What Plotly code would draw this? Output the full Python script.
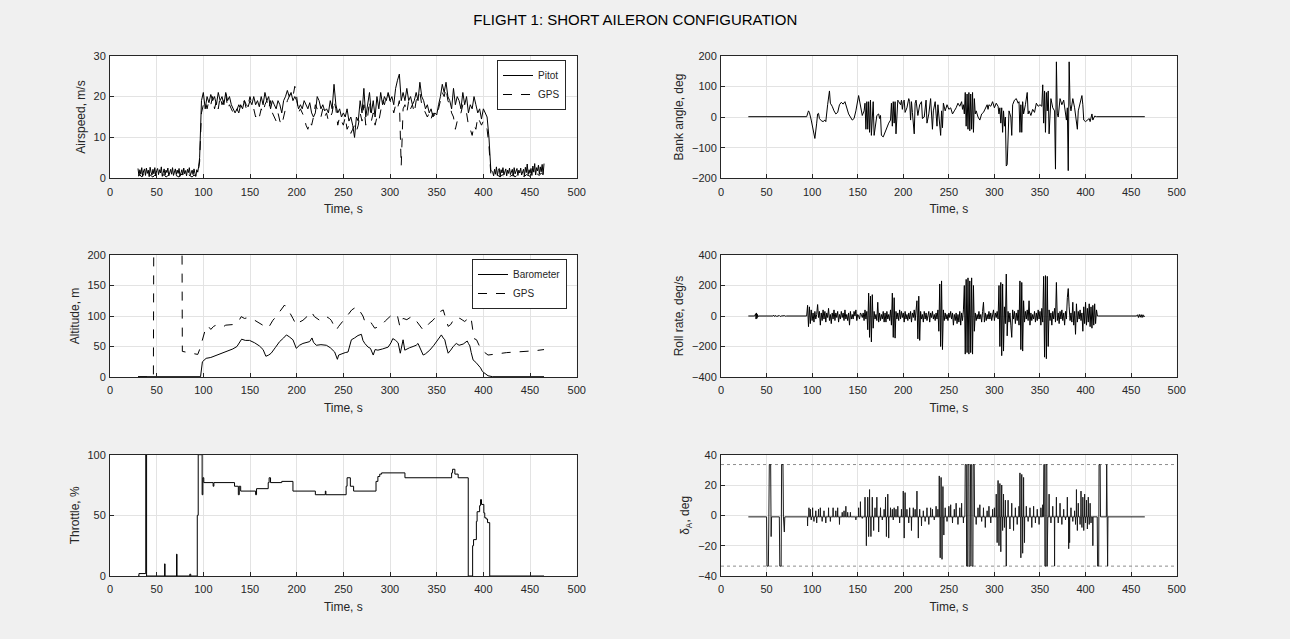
import numpy as np
import plotly.graph_objects as go

# ---------------- DATA ----------------
# Airspeed (m/s)
pitot_ground1 = [2.4,0.6,2.1,1.0,2.6,0.5,1.8,2.3,0.7,2.5,
                 1.2,2.0,0.4,2.7,1.5,0.8,2.2,1.1,2.6,0.6,
                 1.9,2.4,0.9,2.1,1.3,2.8,0.5,1.7,2.3,0.8,
                 2.0,1.4,2.5,0.6,1.8,2.2,1.0,2.6,0.7,1.5,
                 2.3,0.9,2.0,1.2,2.4,0.5,1.8,2.1,0.8,2.5,
                 1.1,1.9,0.6,2.2,1.4,2.6,0.7,1.6,2.0,0.9,
                 2.3,1.2,0.5,2.1,1.5,2.9]            # t = 30..95, 1 s
pitot_flight = [5,19,21,17,20,18.5,20.5,19,20,18,
                21,19,20,18,21,19,20,18,17,16,
                17,16,18,17,19,18,17.5,19,18,20,
                18,19,17.5,20,18,21,19,20,17,19,
                18,17,19,18,16,19,20,21.5,20,21,
                19,20,19,17,18,17,19,18,17,18.5,
                16,15,16,20,19,17,18,16.5,17,16,
                19,17,23,18,16,17,15,16,15,17,
                14,15,13,10,15,14,19,16,22,15,
                18,21,16,19,15,20,17,21,18,20,
                19,21,19,20,18,22,24,25.5,19,21,
                19,22,19,20,18,19,21,19,23.5,20,
                19,17,18,16,17,15,16,15.5,18,20,
                23,21,23.5,20,19,17,22,18,20,19,
                17,21,18,20,16,18,17,20,18,16,
                17,14.5,17,16,15,10,2]              # t = 96..408, 2 s
pitot_ground2 = [1.5,0.6,2.2,1.0,2.8,0.7,1.9,2.4,0.5,2.1,
                 1.3,2.6,0.8,1.7,2.3,0.6,2.0,1.2,2.5,0.9,
                 1.8,2.2,0.5,2.6,1.1,1.6,2.4,0.7,2.0,1.3,
                 2.5,0.8,1.9,2.2,0.6,2.7,1.4,3.5,0.9,2.1,
                 1.2,2.4,0.7,3.0,1.5,3.6,0.8,2.6,1.8,3.2,
                 1.0,2.8,1.6,3.4,0.9,3.6]            # t = 410..465, 1 s
gps_ground1 = [0.5,0.9,0.3,1.1,0.6,0.4,1.0,0.7,0.3,0.8,
               0.5,1.2,0.4,0.6,0.9,0.3,0.7,1.0,0.5,0.4,
               0.8,0.6,0.3,1.1,0.5,0.7,0.4,0.9,0.6,0.3,
               0.8,0.5,1.0]                          # t = 30..94, 2 s
gps_flight = [4,16,18,19,17,19,18,20,17,19,
              17,20,18,19,21,17,18,17,16,15.5,
              17,18,17,18,19,17,18,20,18,17,
              15,16,15,17,16,18,19,17,19,16,
              15,14,16,14,13,15,17,19,20,21,
              20,22.5,20,16,17,16,15,13,12,14,
              13,15,18,17,16,15,17,15,16,14,
              15,16,19,17,13,15,14,13,15,12,
              13,11,12,13,11.5,13,16,14,18,13,
              15,19,14,16,13,15,14,17,19,18,
              20,21,19,18,16,18,17,19,3,17,
              18,16,19,17,18,16,19,20,21,18,
              17,16,15,16,14.5,16,15,16,17,19,
              21,20,22,19,18,16,15,12,14,15,
              16,18,17,16,13,12,10.5,13,12,15,
              14,13,14,13,12,8,1]                    # t = 96..408, 2 s
gps_ground2 = [0.8,0.4,1.0,0.6,0.3,0.9,0.5,0.7,1.1,0.4,
               0.6,0.9,0.3,0.8,0.5,1.0,0.6,0.4,0.9,0.7,
               0.5,1.2,0.8,0.6,1.0,0.7,1.3,0.9]      # t = 410..464, 2 s

# Altitude (m)
baro_t = [30,97,99,103,108,113,117,121,126,131.6,136,141,145,149.5,155,160,164,167,170,172.7,
          177,181.7,186,189,192,196,199.6,203,206.7,210,213.9,216.4,218,221,226,231.8,236,240.7,243.6,245,
          247.9,252,255,258.6,262,265.7,269.3,271,273,275,276.5,279,281,282,284,287,292,298,301,303,
          306,308.7,311,313,314,315.8,318,321,324.7,328,330,333,335.5,338,342.6,347,351.6,355,357,358.7,
          360,362.3,365,367.7,371,374,378.4,380,382.7,384,385.5,387,389,392,394.5,397,399,402,405,410,465]
baro_v = [0.5,0.5,25,30.6,32,35,37,40,43,46,50,62,60,60,56,51,45,34,36,39,
          48,58,64,69,66,61,47,52,55,56,58,64,57,52,53,52,48,41,29,36,
          38,40,41,61,64,68,70,60,55,52,49,47,39,36,45,44,46,49,56,63,
          60,56,39,52,61,44,46,48,50,52,55,45,36,38,44,52,61,69,64,61,
          52,39,44,50,55,52,54,56,59,55,51,40,28,24,20,15,9,5,2,0.5,0.5]
gpsalt_t = [30,46.5,47,77,77.5,85,90,94,96,99.4,102,104.8,108,111,113.7,117,121,124,128,132,
            135,138,140.6,144,147,151,155,160,164,169,171,174.5,178,181.7,184,187,189,192,196,199.6,
            203,206.7,211,215.7,219,222,224.6,228,231.8,235,237,240,242.5,245,247.9,251,255,259,264,266,
            269.3,271,273,276,278,281,283.6,287,290.8,295,299.7,302,305,308,310.5,312,314,318,322,324.7,
            327,330,333,335.5,339,342,346,350,353.4,357,359,362.3,365,367.7,371,375,378,380,383,385,
            387,388.6,390,392.7,396,399.9,405,410,417.7,425,435,446,455,465]
gpsalt_v = [0,0,300,300,42,40,38,37,45,63,77,84,78,83,85,84,82,85,85,86,
            88,92,99,96,97,96,93,88,85,80,84,93,99,107,110,118,113,107,96,85,
            90,93,99,107,99,95,93,96,99,96,93,84,77,83,88,95,102,110,115,112,
            104,100,91,92,93,86,80,82,85,92,99,102,104,100,83,90,96,94,98,99,
            94,88,82,77,82,88,93,100,107,110,100,83,86,93,98,96,93,91,95,99,
            95,72,63,61,50,42,36,37,39,40,41,42,43,45]

# Throttle (%), step changes
thr_t = [30,31,38.3,39.2,58.5,59,71.3,71.8,85.5,86.5,93.5,94.5,98.7,99.5,100.5,110.5,111.3,133.4,137.5,138.5,
         140,156,157,169.5,170.5,172,184,196,220,230.7,231.3,253,254,257.5,261,285,287,289,291,316,
         366,367,369.5,373,383.8,388.5,389.5,392.5,393.3,396,397,398,400.5,401.5,403,404.5,406.8,465]
thr_v = [0,2,100,0,10,0,18,0,1.5,0,50,100,67,81,77,74,77,74,67,74,
         70,67,72,77,81,77,78,70,67,70,67,74,81,74,70,78,82,84,85,81,
         85,88,84,81,0,25,30,45,53,58,63,59,52,48,47,44,0,0]

# Bank angle (deg)
bank_t = [30,60,94,96,97,99,101,103,105,106,107,108,110,112,114,115,117,119,120,122,
          124,126,128,130,132,134,136,138,140,142,144,146,148,151,153,155,157,158,159,160,
          161,162,163,164,165,166,167,168,170,171,173,174,175,176,178,180,182,184,186,187,
          188,189,190,191,192,193,194,195,197,198,199,200,201,202,204,206,207,208,209,210,
          212,213,214,216,218,220,221,223,225,226,228,230,232,233,235,236,237,238,240,241,
          242,243,244,246,248,250,252,254,256,258,260,262,264,265,266,267,268,269,270,271,
          272,273,274,275,276,277,278,279,280,282,284,286,288,290,292,293,294,296,298,300,
          302,304,305,306,307,308,309,310,311,312,313,314,315,316,318,319,320,322,324,326,
          327,328,329,330,331,332,334,336,337,338,340,342,344,346,348,350,352,353,354,355,
          356,357,358,359,360,362,364,366,367,368,369,370,372,374,376,378,379,380,381,382,
          383,384,386,388,390,391,392,394,396,397,398,400,402,404,405,406,407,408,410,412,465]
bank_v = [1,1,1,20,15,-10,-40,-70,-20,10,12,-5,-12,-15,-10,-15,40,85,45,35,
          20,10,15,40,48,42,50,30,10,0,-10,-5,20,70,40,5,20,45,-40,50,
          -40,50,-50,55,-60,-10,50,-60,-20,5,10,-5,5,-60,-65,-50,-30,-20,-10,45,
          -30,50,-20,50,-55,10,55,50,40,55,25,50,55,15,30,60,50,-10,50,15,
          -55,45,55,5,40,50,-5,0,55,-20,10,60,-40,20,50,10,-30,40,-50,-60,
          20,-35,45,20,40,25,30,10,20,30,45,35,50,25,40,10,80,-30,75,-40,
          80,-45,75,-40,80,-50,60,10,20,0,-10,10,15,30,40,25,40,35,50,30,
          45,35,10,30,-20,30,-50,20,-30,0,-160,-155,-20,20,0,-60,40,55,60,45,
          50,-50,40,-50,50,10,40,80,10,20,5,25,15,45,35,40,35,105,-20,85,
          -50,80,20,85,-55,60,30,20,-170,180,10,0,60,40,55,0,-10,30,-175,180,
          40,20,60,30,-20,-40,20,50,70,40,-10,-15,-10,-5,-15,5,10,-10,3,1,1]

# Roll rate (deg/s)
roll_pre_t = [30,37,38,38.5,39,39.5,40,40.5,41,57,58,59,60,61,62,64,65,66,70,71,72,93]
roll_pre_v = [0,0,15,-20,20,-15,10,-5,0,0,5,-4,4,-3,0,3,-3,0,2,-2,0,0]
roll_flight = [0,70,-70,60,-50,40,-30,20,-40,30,            # t = 94..413, 1 s
               -20,10,75,-10,30,-60,20,-30,40,-20,
               30,-40,20,-10,50,-30,10,-50,20,-20,
               40,-30,20,-10,30,-40,10,-20,30,-10,
               20,-30,40,-20,10,-30,20,-60,30,-20,
               10,-20,30,0,40,-30,10,0,-20,20,
               10,-10,20,-30,40,-20,30,-90,150,-140,
               130,-170,140,-80,30,-20,10,-30,90,-40,
               20,-30,10,-20,30,-40,20,-40,30,-20,
               10,-30,40,-60,150,-140,120,-145,30,-20,
               20,-30,40,-20,30,-10,20,-40,30,-20,
               10,-30,20,-20,30,-40,20,-10,40,-30,
               20,100,-150,130,-160,30,-20,10,-40,30,
               -20,20,-30,10,30,-40,20,-10,30,-20,
               10,-30,20,-20,40,-100,210,-200,230,-220,
               40,-30,20,-20,10,-30,20,-10,30,-20,
               20,-60,10,-30,20,-50,10,-40,30,-60,
               20,-30,40,200,-250,240,-240,250,-250,230,
               -240,250,-250,200,-100,20,-30,10,-20,30,
               -20,10,-40,30,90,-40,20,-30,10,-20,
               30,-20,20,-30,10,40,-30,20,-10,30,
               -20,200,-200,220,-260,210,-230,60,-50,275,
               -130,30,-40,20,-60,-140,40,-20,30,-50,
               20,-30,40,-60,230,-220,220,-230,100,-40,
               30,-20,40,-30,100,-60,20,-30,10,-20,
               30,-40,20,-30,40,-20,30,-60,50,-40,
               260,-270,265,-280,260,-200,40,-30,20,-60,
               30,-20,50,-40,220,-30,20,-50,30,-20,
               40,-30,20,-60,30,-20,120,180,60,-30,
               20,-40,90,-60,30,-120,80,-40,30,-20,
               40,-30,20,-100,60,-50,90,-60,50,-40,
               80,-70,60,-80,70,-60,80,-50,40,0]
roll_post_t = [414,456,457,458,459,460,461,462,463,464,465]
roll_post_v = [0,0,8,-10,10,-8,9,-10,8,-6,0]

# Aileron deflection (deg)
ail_rest = -1
ail_limit = 33.5
# saturated / stepped stretches (explicit samples)
ail_block_t = [30,50,50.5,52,52.5,53,54.5,55,55.5,64,64.5,66,66.5,68,68.5,69.5,70,94,
               267.6,268,269.2,269.5,270.6,270.9,272.0,272.3,273.5,273.8,275.0,275.3,276.4,276.7,277.8,278.2,
               353.8,354.2,355.1,355.4,356.3,356.6,357.5,357.8,358.6,
               412.8,413.2,414.4,414.8,416,416.4,422.8,423.2,424.2,424.6,465]
ail_block_v = [-1,-1,-33.5,-33.5,-1,33.5,33.5,-14,-1,-1,-33.5,-33.5,33.5,33.5,-1,-11,-1,-1,
               -1,33.5,33.5,-33.5,-33.5,33.5,33.5,-33.5,-33.5,33.5,33.5,-33.5,-33.5,33.5,33.5,-1,
               -1,33.5,33.5,-33.5,-33.5,33.5,33.5,-33.5,-1,
               -1,-33.5,-33.5,33.5,33.5,-1,-1,33.5,-33.5,-1,-1]
# short spikes from the rest value
ail_spike_t = [95,96.5,98,99,100.5,102,104,105,107,109,111,113,115,118,120,123,126,128,130,133,
               135,137,139,142,148,151,153,155,158,159.5,161,162,163,164.5,166,167.5,169,171,173,175,
               177,179,180.5,181.5,183,184,186,188,189,190,192,194,196,198,200,201,202,204,206,207,
               209,211,213,215,216.5,218,220,222,224,226,228,230,232,234,236,238,239.5,240.5,241.5,242.5,
               243.5,244.5,246,248,250,252,254,256,258,260,262,264,266,
               280,282,284,286,288,290,292,294,296,298,300,302,303,304,305,306,307,308,309,310,
               311,312,313,315,317,319,321,323,325,327,328,329,330,331,332,333,335,337,339,341,
               343,345,347,349,351,353,360,362,364,366,368,
               370,372,374,376,378,380,381.5,382.5,384,386,388,389,390,391,392,394,395,396,397,398,
               399,400,401,402,403,404,405,406,408]
ail_spike_v = [-7,5,4,-3,5,-4,3,-5,4,5,-4,3,-5,5,-4,5,3,5,-6,2,
               3,6,2,2,-3,5,9,-2,12,-20,12,-14,17,-14,12,-10,5,12,-11,5,
               -3,4,12,-14,14,-15,5,4,-3,5,4,6,-5,4,16,-15,15,4,-5,5,
               -10,5,4,16,-15,4,-7,3,-4,5,-6,5,4,-3,6,4,26,-28,25,-29,
               19,-13,5,-4,6,7,-5,4,8,-6,5,8,-5,
               -6,5,7,-4,5,-8,3,6,-5,4,5,14,-18,23,-20,21,-24,20,-10,14,
               -8,10,-33.5,10,-9,8,-10,5,-6,6,28,-28,27,-25,25,-18,6,-4,5,-8,
               6,-5,4,-6,5,7,14,-5,6,-33.5,12,
               -5,8,-6,4,-3,12,-22,-18,5,-4,3,-6,17,-10,8,-6,16,-8,12,-10,
               14,-5,10,-9,12,-6,8,-5,-20]
ail_range_t = [0, 500]

# ---------------- FIGURE ----------------
def grid_t(start, step, n):
    return start + step * np.arange(n)

air_t_p = np.concatenate([grid_t(30, 1, len(pitot_ground1)), grid_t(96, 2, len(pitot_flight)),
                          grid_t(410, 1, len(pitot_ground2))])
air_v_p = pitot_ground1 + pitot_flight + pitot_ground2
air_t_g = np.concatenate([grid_t(30, 2, len(gps_ground1)), grid_t(96, 2, len(gps_flight)),
                          grid_t(410, 2, len(gps_ground2))])
air_v_g = gps_ground1 + gps_flight + gps_ground2
roll_t = list(roll_pre_t) + list(grid_t(94, 1, len(roll_flight))) + roll_post_t
roll_v = roll_pre_v + roll_flight + roll_post_v

# aileron trace: spikes rise from and return to the rest value; merged with blocks by time
pts = list(zip(ail_block_t, ail_block_v))
hw = 0.2
for t, v in zip(ail_spike_t, ail_spike_v):
    pts += [(t - hw, ail_rest), (t, v), (t + hw, ail_rest)]
pts.sort(key=lambda p: p[0])
ail_x = [p[0] for p in pts]
ail_y = [p[1] for p in pts]

BLK = '#000000'
fig = go.Figure()
lw = 1

fig.add_trace(go.Scatter(x=air_t_p, y=air_v_p, mode='lines', name='Pitot',
                         line=dict(color=BLK, width=lw), xaxis='x', yaxis='y', legend='legend'))
fig.add_trace(go.Scatter(x=air_t_g, y=air_v_g, mode='lines', name='GPS',
                         line=dict(color=BLK, width=lw, dash='dash'), xaxis='x', yaxis='y', legend='legend'))
fig.add_trace(go.Scatter(x=baro_t, y=baro_v, mode='lines', name='Barometer',
                         line=dict(color=BLK, width=lw), xaxis='x3', yaxis='y3', legend='legend2'))
fig.add_trace(go.Scatter(x=gpsalt_t, y=gpsalt_v, mode='lines', name='GPS',
                         line=dict(color=BLK, width=lw, dash='dash'), xaxis='x3', yaxis='y3', legend='legend2'))
fig.add_trace(go.Scatter(x=thr_t, y=thr_v, mode='lines', showlegend=False, line_shape='hv',
                         line=dict(color=BLK, width=lw), xaxis='x5', yaxis='y5'))
fig.add_trace(go.Scatter(x=bank_t, y=bank_v, mode='lines', showlegend=False,
                         line=dict(color=BLK, width=lw), xaxis='x2', yaxis='y2'))
fig.add_trace(go.Scatter(x=roll_t, y=roll_v, mode='lines', showlegend=False,
                         line=dict(color=BLK, width=lw), xaxis='x4', yaxis='y4'))
for s in (1, -1):
    fig.add_trace(go.Scatter(x=ail_range_t, y=[s * ail_limit] * 2, mode='lines', showlegend=False,
                             line=dict(color='#8c8c8c', width=1, dash='dot'), xaxis='x6', yaxis='y6'))
fig.add_trace(go.Scatter(x=ail_x, y=ail_y, mode='lines', showlegend=False,
                         line=dict(color='#1a1a1a', width=lw), xaxis='x6', yaxis='y6'))

AX = '#262626'
FONT = 'Liberation Sans, Arial, Helvetica, sans-serif'

def xax(dom, anchor):
    return dict(domain=dom, anchor=anchor, range=[0, 500], dtick=50, tick0=0,
                showgrid=True, gridcolor='#e3e3e3', gridwidth=1, zeroline=False,
                showline=True, mirror=True, linecolor=AX, linewidth=1,
                ticks='inside', ticklen=4, tickcolor=AX, ticklabelstandoff=3,
                tickfont=dict(size=11, color=AX, family=FONT),
                title=dict(text='Time, s', font=dict(size=12, color=AX, family=FONT), standoff=8))

def yax(dom, anchor, rng, dtick, title):
    return dict(domain=dom, anchor=anchor, range=rng, dtick=dtick, tick0=rng[0],
                showgrid=True, gridcolor='#e3e3e3', gridwidth=1, zeroline=False,
                showline=True, mirror=True, linecolor=AX, linewidth=1,
                ticks='inside', ticklen=4, tickcolor=AX, ticklabelstandoff=1,
                tickfont=dict(size=11, color=AX, family=FONT),
                title=dict(text=title, font=dict(size=12, color=AX, family=FONT), standoff=5))

W, H = 1290, 639
xL = [110 / W, 576.7 / W]
xR = [721 / W, 1176.7 / W]
r1 = [1 - 178.3 / H, 1 - 55.7 / H]
r2 = [1 - 377 / H, 1 - 255 / H]
r3 = [1 - 576 / H, 1 - 454.7 / H]

legstyle = dict(bgcolor='white', bordercolor=AX, borderwidth=1,
                font=dict(size=10, color=AX, family=FONT), tracegroupgap=0,
                xanchor='right', yanchor='top', itemwidth=30)

fig.update_layout(
    width=W, height=H, template='none',
    paper_bgcolor='#f0f0f0', plot_bgcolor='white',
    margin=dict(l=0, r=0, t=0, b=0),
    font=dict(family=FONT, color=AX),
    title=dict(text='FLIGHT 1: SHORT AILERON CONFIGURATION', x=0.4925, xanchor='center',
               y=1 - 20 / H, yanchor='middle', font=dict(size=15, color='black', family=FONT)),
    xaxis=xax(xL, 'y'), yaxis=yax(r1, 'x', [0, 30], 10, 'Airspeed, m/s'),
    xaxis2=xax(xR, 'y2'), yaxis2=yax(r1, 'x2', [-200, 200], 100, 'Bank angle, deg'),
    xaxis3=xax(xL, 'y3'), yaxis3=yax(r2, 'x3', [0, 200], 50, 'Altitude, m'),
    xaxis4=xax(xR, 'y4'), yaxis4=yax(r2, 'x4', [-400, 400], 200, 'Roll rate, deg/s'),
    xaxis5=xax(xL, 'y5'), yaxis5=yax(r3, 'x5', [0, 100], 50, 'Throttle, %'),
    xaxis6=xax(xR, 'y6'), yaxis6=yax(r3, 'x6', [-40, 40], 20, 'δ<sub>A</sub>, deg'),
    legend=dict(x=566 / W, y=1 - 60 / H, **legstyle),
    legend2=dict(x=567 / W, y=1 - 259 / H, **legstyle),
)

fig.write_html('out.html', config={'displayModeBar': False},
               post_script="document.body.style.margin='0';document.body.style.overflow='hidden';")
